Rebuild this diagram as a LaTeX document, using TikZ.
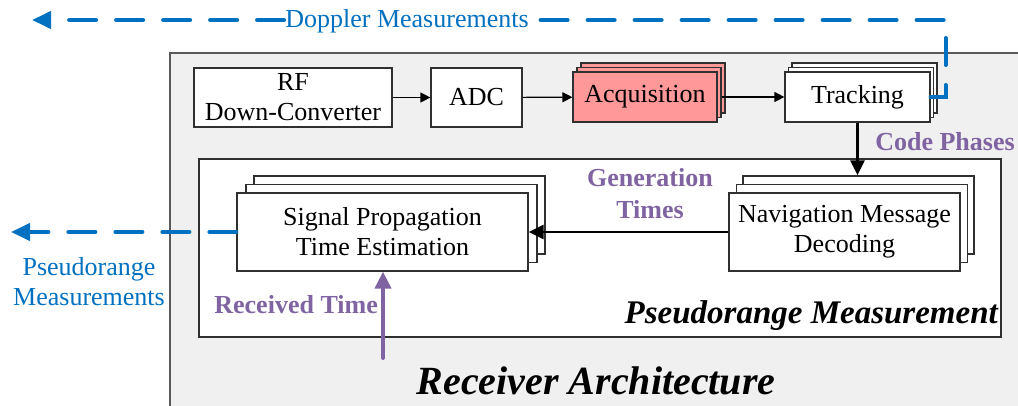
\documentclass[tikz,border=0pt]{standalone}
\usepackage{fontspec}
\setmainfont{Liberation Serif}
\usetikzlibrary{arrows.meta,calc}
\definecolor{bgray}{HTML}{F0F0F0}
\definecolor{acqpink}{HTML}{FF9999}
\definecolor{labpurple}{HTML}{8064A2}
\definecolor{measblue}{HTML}{0070C0}
\definecolor{edge}{HTML}{303030}
\begin{document}
\begin{tikzpicture}[x=1pt,y=-1pt,
  box/.style={draw=edge, line width=1.2pt, fill=white, inner sep=0pt, align=center,
              font=\fontsize{26}{30}\selectfont},
  flow/.style={draw=black, line width=1.2pt, -{Triangle[length=10pt,width=10pt]}},
  bigflow/.style={draw=black, line width=2.8pt, -{Triangle[length=15pt,width=14pt]}},
  bluedash/.style={draw=measblue, line width=4pt, line cap=round, dash pattern=on 27pt off 20pt},
  bluetip/.style={-{Triangle[length=19pt,width=17pt]}},
  bluetext/.style={text=measblue, font=\fontsize{26}{30}\selectfont, align=center, inner sep=1pt},
  purpletext/.style={text=labpurple, font=\fontsize{26}{31}\selectfont\bfseries, align=center, inner sep=0pt},
  titletext/.style={font=\bfseries\itshape, inner sep=0pt}
]
\useasboundingbox (0,0) rectangle (1018,406);

% receiver architecture frame
\fill[bgray] (170,53) rectangle (1030,420);
\draw[draw=edge!80, line width=1.2pt] (1030,53) -- (170,53) -- (170,420);

% pseudorange measurement frame
\draw[draw=edge, line width=1.2pt, fill=white] (199,159) rectangle (1001,337);

% front-end chain
\node[box, minimum width=198pt, minimum height=59pt] (rf) at (293,97.5) {RF\\Down-Converter};
\node[box, minimum width=91pt, minimum height=59pt] (adc) at (476.5,97.5) {ADC};

\node[box, fill=acqpink, minimum width=144pt, minimum height=50pt] (acq3) at (653,88) {};
\node[box, fill=acqpink, minimum width=144pt, minimum height=50pt] (acq2) at (649,92.5) {};
\node[box, fill=acqpink, minimum width=144pt, minimum height=50pt] (acq) at (645,97) {Acquisition};

\node[box, minimum width=145pt, minimum height=50pt] (trk3) at (864.5,88) {};
\node[box, minimum width=145pt, minimum height=50pt] (trk2) at (861,92.5) {};
\node[box, minimum width=145pt, minimum height=50pt] (trk) at (857.5,97) {Tracking};

% pseudorange blocks
\node[box, minimum width=291pt, minimum height=78pt] (sig3) at (399.5,215) {};
\node[box, minimum width=291pt, minimum height=78pt] (sig2) at (391.5,223.5) {};
\node[box, minimum width=291pt, minimum height=78pt] (sig) at (382.5,232) {Signal Propagation\\Time Estimation};

\node[box, minimum width=231pt, minimum height=78pt] (nav3) at (858.5,215) {};
\node[box, minimum width=231pt, minimum height=78pt] (nav2) at (852,223.5) {};
\node[box, minimum width=231pt, minimum height=78pt] (nav) at (844.5,232) {Navigation Message\\Decoding};

% connectors
\draw[flow] (rf) -- (adc);
\draw[flow] (adc) -- (acq);
\draw[flow] (acq2.east |- acq.east) -- (trk);
\draw[bigflow] (trk.south) -- (trk.south |- nav3.north);
\draw[bigflow] (nav.west) -- (sig.east);

\coordinate (rtstart) at (383,358);
\draw[draw=labpurple, line width=4pt, line cap=round, -{Triangle[length=17pt,width=16pt]}]
  (rtstart) -- (rtstart |- sig.south);

% measurement outputs
\node[bluetext] (dop) at (407,21) {Doppler Measurements};
\coordinate (dopend) at (32,20);
\draw[bluedash] (trk.east) -- ++(15,0) |- (dop.east |- dopend);
\draw[bluedash, bluetip] (dop.west |- dopend) -- (dopend);

\coordinate (prend) at (11,232);
\draw[bluedash, bluetip] (sig.west) -- (prend);
\node[bluetext] (prlab) at (89,282) {Pseudorange\\Measurements};

% labels
\node[purpletext] (codeph) at (945,142) {Code Phases};
\node[purpletext, font=\fontsize{26}{32}\selectfont\bfseries] (gentimes) at (650,194) {Generation\\Times};
\node[purpletext, anchor=east] (rectime) at (378,305) {Received Time};

\node[titletext, font=\fontsize{33}{38}\selectfont\bfseries\itshape, anchor=east] (prm) at (998,316) {Pseudorange Measurement};
\node[titletext, font=\fontsize{40}{46}\selectfont\bfseries\itshape] (arch) at (596,381) {Receiver Architecture};
\end{tikzpicture}
\end{document}
